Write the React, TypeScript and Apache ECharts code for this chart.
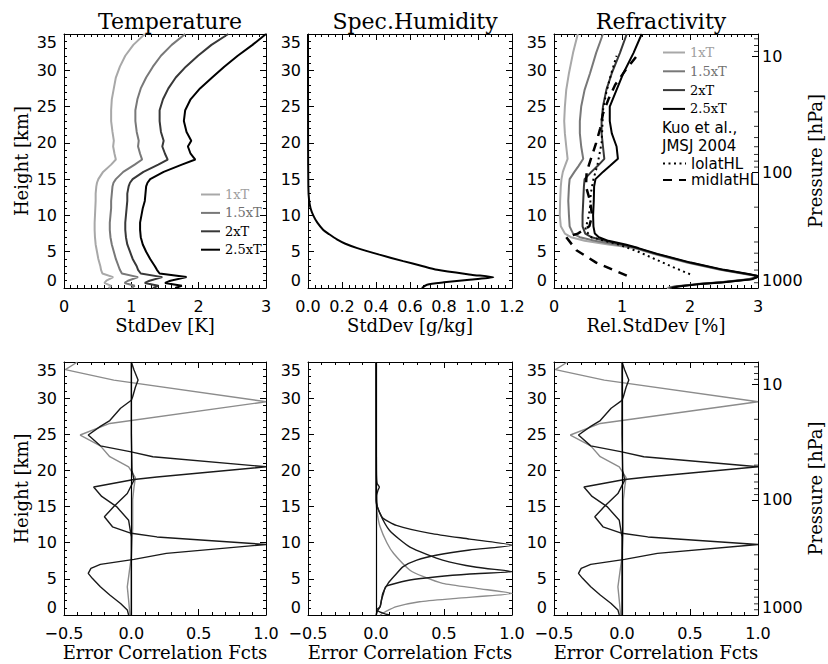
import React, { useEffect, useRef } from 'react';
import * as echarts from 'echarts';

const SERIF = '"DejaVu Serif", serif';
const SANS = '"DejaVu Sans", sans-serif';

// ---------- texts ----------
const panelTitles = ['Temperature', 'Spec.Humidity', 'Refractivity'];
const stdDevNames = ['StdDev [K]', 'StdDev [g/kg]', 'Rel.StdDev [%]'];
const corrName = 'Error Correlation Fcts';
const heightName = 'Height [km]';
const pressureName = 'Pressure [hPa]';
const kuoLines = ['Kuo et al.,', 'JMSJ 2004'];

// ---------- axes ----------
const heightRange = [0, 35, 5];
const stdDevRanges = [[0, 3, 1], [0, 1.2, 0.2], [0, 3, 1]];
const stdDevDigits = [0, 1, 0];
const corrRange = [-0.5, 1.0, 0.5];
const pressureRange = [6.36, 1000];
const pressureMinorLevels = [7, 8, 9, 20, 30, 40, 50, 60, 70, 80, 90, 200, 300, 400, 500, 600, 700, 800, 900];

// ---------- legend ----------
const scaleNames = ['1xT', '1.5xT', '2xT', '2.5xT'];
const scaleColors = ['#a8a8a8', '#787878', '#383838', '#000000'];
const scaleTextColors = ['#a0a0a0', '#707070', '#000000', '#000000'];
const kuoNames = ['lolatHL', 'midlatHL'];

// ---------- temperature std dev ----------
const tempHeights = [0, 0.3, 0.7, 1.0, 1.5, 2.0, 2.5, 3, 4, 5, 6, 7, 8, 9, 10, 11, 12, 13, 14, 14.5, 15, 16, 17, 17.7, 18.5, 19.5, 20.3, 21.5, 23, 24.5, 26, 27.5, 29, 30.5, 32, 33.5, 35];
const temp1x = [0.66, 0.70, 0.60, 0.63, 0.73, 0.57, 0.55, 0.54, 0.51, 0.49, 0.47, 0.46, 0.455, 0.455, 0.46, 0.465, 0.47, 0.47, 0.48, 0.49, 0.51, 0.58, 0.70, 0.77, 0.75, 0.73, 0.74, 0.72, 0.70, 0.70, 0.71, 0.74, 0.77, 0.83, 0.91, 1.03, 1.20];
const temp15x = [1.00, 1.05, 0.90, 0.95, 1.10, 0.86, 0.83, 0.81, 0.77, 0.74, 0.71, 0.69, 0.68, 0.68, 0.69, 0.70, 0.70, 0.71, 0.72, 0.735, 0.77, 0.88, 1.05, 1.16, 1.13, 1.10, 1.11, 1.08, 1.06, 1.06, 1.09, 1.14, 1.22, 1.32, 1.44, 1.60, 1.80];
const temp2x = [1.32, 1.40, 1.20, 1.27, 1.46, 1.14, 1.10, 1.08, 1.02, 0.98, 0.94, 0.92, 0.91, 0.91, 0.92, 0.93, 0.94, 0.94, 0.96, 0.98, 1.02, 1.18, 1.40, 1.54, 1.50, 1.46, 1.48, 1.44, 1.42, 1.42, 1.47, 1.55, 1.66, 1.81, 1.99, 2.19, 2.44];
const temp25x = [1.65, 1.75, 1.50, 1.58, 1.82, 1.42, 1.38, 1.35, 1.28, 1.22, 1.17, 1.14, 1.13, 1.13, 1.15, 1.17, 1.20, 1.21, 1.22, 1.24, 1.28, 1.48, 1.75, 1.95, 1.88, 1.84, 1.89, 1.82, 1.78, 1.80, 1.88, 2.02, 2.20, 2.38, 2.58, 2.80, 3.00];

// ---------- specific humidity std dev ----------
const humHeights = [0, 0.46, 0.78, 1.15, 1.47, 1.84, 2.5, 3.1, 3.7, 4.6, 5.5, 6.1, 6.7, 7.4, 8.0, 9.0, 9.9, 11, 12.2, 14, 20, 35];
const humStd = [0.67, 0.70, 0.80, 0.95, 1.09, 0.96, 0.76, 0.66, 0.56, 0.42, 0.29, 0.22, 0.17, 0.125, 0.09, 0.055, 0.033, 0.015, 0.006, 0.002, 0.0005, 0];

// ---------- refractivity rel. std dev ----------
const refHeights = [0, 0.2, 0.5, 0.8, 1.2, 1.6, 1.9, 2.5, 3.5, 4.7, 5.5, 6.0, 6.5, 7.0, 7.5, 8.5, 10, 12, 14, 15, 16, 16.8, 17.8, 19.5, 21.3, 23, 25, 27.3, 29.6, 32.4, 35];
const ref1x = [1.66, 1.76, 2.05, 2.44, 2.85, 3.02, 2.82, 2.44, 1.95, 1.46, 1.18, 0.80, 0.45, 0.25, 0.16, 0.10, 0.085, 0.09, 0.10, 0.11, 0.13, 0.16, 0.20, 0.18, 0.16, 0.15, 0.16, 0.18, 0.22, 0.28, 0.35];
const ref15x = [1.68, 1.78, 2.07, 2.46, 2.87, 3.02, 2.84, 2.46, 1.97, 1.48, 1.20, 0.90, 0.60, 0.38, 0.28, 0.23, 0.22, 0.21, 0.22, 0.23, 0.30, 0.36, 0.43, 0.40, 0.38, 0.38, 0.40, 0.45, 0.53, 0.62, 0.72];
const ref2x = [1.70, 1.80, 2.09, 2.48, 2.89, 3.02, 2.86, 2.48, 1.99, 1.50, 1.22, 1.00, 0.75, 0.55, 0.46, 0.42, 0.42, 0.43, 0.44, 0.45, 0.55, 0.64, 0.74, 0.72, 0.70, 0.70, 0.72, 0.77, 0.85, 0.97, 1.07];
const ref25x = [1.73, 1.83, 2.11, 2.50, 2.91, 3.02, 2.88, 2.50, 2.01, 1.52, 1.24, 1.05, 0.80, 0.66, 0.60, 0.58, 0.575, 0.585, 0.59, 0.61, 0.72, 0.82, 0.94, 0.92, 0.85, 0.82, 0.82, 0.92, 1.02, 1.17, 1.29];
const lolatHeights = [1.9, 3.0, 4.0, 5.0, 6.0, 7.0, 8.0, 9.5, 11, 13, 15, 17, 18.5, 20, 22, 24.5, 27, 29.5, 32];
const lolatVals = [2.0, 1.72, 1.48, 1.24, 0.95, 0.55, 0.46, 0.50, 0.53, 0.54, 0.58, 0.64, 0.67, 0.70, 0.71, 0.72, 0.77, 0.84, 0.92];
const midlatHeights = [1.7, 3.5, 5.2, 7.0, 7.5, 8.5, 10, 12, 14, 16, 18, 20, 22, 24, 26, 28, 30, 32];
const midlatVals = [1.07, 0.62, 0.33, 0.18, 0.35, 0.52, 0.56, 0.53, 0.47, 0.48, 0.55, 0.62, 0.68, 0.72, 0.80, 0.90, 1.05, 1.22];

// ---------- error correlation functions (temperature / refractivity) ----------
const corrGrayH = [0, 2, 3.9, 6, 8, 10, 12, 14, 16, 17.7, 19, 20.5, 21.9, 23.4, 24.9, 26.5, 29.5, 32.5, 33.95, 35];
const corrGrayX = [-0.01, -0.02, -0.03, -0.015, 0.0, 0.005, 0.01, 0.01, 0.01, 0.02, 0.03, -0.02, -0.16, -0.23, -0.38, -0.16, 1.0, -0.13, -0.49, -0.40];
const corrBlackAH = [0, 5, 10, 10.8, 13.1, 15.0, 16.4, 17.7, 18.75, 19.1, 20.5, 21.9, 22.6, 23.4, 24.9, 26.1, 26.9, 28.6, 29.7, 30.2, 31.5, 32.5, 33.9, 35];
const corrBlackAX = [0.0, 0.0, 0.0, 0.0, -0.02, -0.11, -0.22, -0.28, 0.02, 0.19, 1.0, 0.16, -0.01, -0.23, -0.32, -0.23, -0.16, -0.08, 0.0, 0.01, 0.03, 0.05, 0.02, 0.0];
const corrBlackBH = [0, 0.7, 1.6, 2.76, 3.9, 5.07, 5.76, 6.45, 7.0, 7.69, 8.52, 9.75, 10.8, 11.3, 12.2, 13.6, 15.0, 16.8, 18.65, 20, 25, 30, 35];
const corrBlackBX = [-0.02, -0.03, -0.08, -0.16, -0.23, -0.29, -0.32, -0.30, -0.23, 0.02, 0.26, 1.0, 0.19, 0.0, -0.14, -0.20, -0.13, -0.03, 0.02, 0.005, 0.0, 0.0, 0.0];

// ---------- error correlation functions (humidity) ----------
const qcorrAH = [0, 0.5, 1.15, 2.0, 3.0, 4.4, 5.5, 6.7, 7.6, 8.3, 9.0, 9.65, 10.5, 11.3, 12.4, 13.4, 14.05, 15, 16.5, 17.3, 17.7, 18.2, 20, 35];
const qcorrAX = [0.0, 0.01, 0.03, 0.04, 0.05, 0.09, 0.14, 0.20, 0.30, 0.45, 0.69, 1.0, 0.69, 0.40, 0.15, 0.05, 0.03, 0.01, 0.005, 0.015, 0.025, 0.008, 0.003, 0.0];
const qcorrBH = [0, 0.23, 0.7, 1.15, 2.07, 3.0, 3.9, 4.15, 4.84, 5.3, 5.67, 6.0, 6.6, 7.6, 9.4, 11.7, 14.0, 15.9, 35];
const qcorrBX = [0.10, 0.055, 0.005, 0.03, 0.04, 0.055, 0.07, 0.10, 0.25, 0.45, 0.69, 1.0, 0.74, 0.49, 0.25, 0.10, 0.03, 0.0, 0.0];
const qcorrGrayH = [0, 0.46, 1.15, 1.84, 2.3, 2.99, 3.68, 4.38, 5.3, 6.2, 8.5, 10, 12.2, 14, 16, 35];
const qcorrGrayX = [0.03, 0.07, 0.15, 0.32, 0.59, 1.0, 0.74, 0.49, 0.35, 0.25, 0.13, 0.08, 0.03, 0.01, 0.0, 0.0];

// ---------- layout ----------
const COLS = [{ left: 64, width: 202 }, { left: 308, width: 204 }, { left: 554, width: 204 }];
const ROWS = [{ top: 34, height: 254 }, { top: 362, height: 253 }];

const zip = (xs: number[], hs: number[]) => hs.map((h, i) => [xs[i], h]);
const fmt = (v: number, d: number) => v.toFixed(d).replace('-', '\u2212');
const isPow10 = (v: number) => {
  const l = Math.log10(v);
  return Math.abs(l - Math.round(l)) < 1e-6;
};

const tickFont = { fontFamily: SANS, fontSize: 16, color: '#000' };
const nameFont = { fontFamily: SERIF, fontSize: 18, color: '#000' };
const axisLine = { show: true, onZero: false, lineStyle: { color: '#000', width: 1 } };
const axisTick = { show: true, inside: true, length: 6, lineStyle: { color: '#000', width: 1 } };

function buildOption() {
  const grid: any[] = [];
  const xAxis: any[] = [];
  const yAxis: any[] = [];
  for (let row = 0; row < 2; row++) {
    for (let col = 0; col < 3; col++) {
      const p = row * 3 + col;
      grid.push({ left: COLS[col].left, width: COLS[col].width, top: ROWS[row].top, height: ROWS[row].height, containLabel: false });
      const [xmin, xmax, xint] = row === 0 ? stdDevRanges[col] : corrRange;
      const digits = row === 0 ? stdDevDigits[col] : 1;
      const minorSplit = row === 0 ? (col === 1 ? 5 : 10) : 5;
      const xc = {
        gridIndex: p, type: 'value', min: xmin, max: xmax, interval: xint,
        axisLine, axisTick,
        minorTick: { show: true, splitNumber: minorSplit, length: 3, lineStyle: { color: '#000' } },
        splitLine: { show: false }, minorSplitLine: { show: false },
      };
      xAxis.push({
        ...xc, position: 'bottom',
        axisLabel: { ...tickFont, margin: 10, formatter: (v: number) => fmt(v, digits) },
        name: row === 0 ? stdDevNames[col] : corrName,
        nameLocation: 'middle', nameGap: 28, nameTextStyle: nameFont,
      });
      xAxis.push({ ...xc, position: 'top', axisLabel: { show: false } });
      const yc = {
        gridIndex: p, type: 'value', min: heightRange[0], max: heightRange[1], interval: heightRange[2],
        axisLine, axisTick,
        minorTick: { show: true, splitNumber: 5, length: 3, lineStyle: { color: '#000' } },
        splitLine: { show: false }, minorSplitLine: { show: false },
      };
      yAxis.push({
        ...yc, position: 'left',
        axisLabel: { ...tickFont, margin: 7, verticalAlignMinLabel: 'bottom', verticalAlignMaxLabel: 'top' },
        name: col === 0 ? heightName : '', nameLocation: 'middle', nameGap: 34, nameTextStyle: nameFont,
      });
      if (col < 2) {
        yAxis.push({ ...yc, position: 'right', axisLabel: { show: false } });
      } else {
        yAxis.push({
          gridIndex: p, type: 'log', logBase: 10, min: pressureRange[0], max: pressureRange[1], inverse: true,
          position: 'right', axisLine, axisTick,
          minorTick: { show: false }, splitLine: { show: false },
          axisLabel: {
            ...tickFont, margin: 4, verticalAlignMaxLabel: 'bottom',
            formatter: (v: number) => (isPow10(v) ? String(Math.round(v)) : ''),
          },
          name: pressureName, nameLocation: 'middle', nameGap: 46, nameTextStyle: nameFont,
        });
      }
    }
  }

  const line = (name: string, p: number, xs: number[], hs: number[], color: string, width: number, type: any = 'solid', smooth: any = false, extra: any = {}) => ({
    type: 'line', name, xAxisIndex: 2 * p, yAxisIndex: 2 * p, data: zip(xs, hs),
    symbol: 'none', showSymbol: false, smooth, silent: true,
    lineStyle: { color, width, type }, itemStyle: { color }, z: 3, ...extra,
  });

  const zeroLine = { markLine: { silent: true, symbol: 'none', label: { show: false }, lineStyle: { color: '#000', width: 1.2, type: 'solid' }, data: [{ xAxis: 0 }] } };

  const GRAY = '#8c8c8c';
  const BLACK = '#1a1a1a';
  const series: any[] = [];
  const temps = [temp1x, temp15x, temp2x, temp25x];
  const refs = [ref1x, ref15x, ref2x, ref25x];
  temps.forEach((t, i) => series.push(line(scaleNames[i], 0, t, tempHeights, scaleColors[i], 2)));
  series.push(line('q', 1, humStd, humHeights, '#000', 2, 'solid', 0.25));
  refs.forEach((r, i) => series.push(line(scaleNames[i], 2, r, refHeights, scaleColors[i], 2)));
  series.push(line(kuoNames[0], 2, lolatVals, lolatHeights, '#000', 2, [2, 3.5]));
  series.push(line(kuoNames[1], 2, midlatVals, midlatHeights, '#000', 2.5, [9, 7]));

  [3, 5].forEach((p) => {
    series.push(line('cg' + p, p, corrGrayX, corrGrayH, GRAY, 1.4, 'solid', false, zeroLine));
    series.push(line('ca' + p, p, corrBlackAX, corrBlackAH, BLACK, 1.4));
    series.push(line('cb' + p, p, corrBlackBX, corrBlackBH, BLACK, 1.4));
  });
  series.push(line('qg', 4, qcorrGrayX, qcorrGrayH, GRAY, 1.4, 'solid', 0.2, zeroLine));
  series.push(line('qa', 4, qcorrAX, qcorrAH, BLACK, 1.4, 'solid', 0.2));
  series.push(line('qb', 4, qcorrBX, qcorrBH, BLACK, 1.4, 'solid', 0.2));

  [2, 5].forEach((p) => {
    const xmax = p === 2 ? stdDevRanges[2][1] : corrRange[1];
    series.push({
      type: 'scatter', xAxisIndex: 2 * p, yAxisIndex: 2 * p + 1, silent: true, clip: false,
      data: pressureMinorLevels.map((v) => [xmax, v]),
      symbol: 'rect', symbolSize: [4, 1], symbolOffset: [-2, 0],
      itemStyle: { color: '#000' }, z: 5,
    });
  });

  const title = panelTitles.map((t, i) => ({
    text: t, left: COLS[i].left + COLS[i].width / 2, top: 5, textAlign: 'center',
    textStyle: { fontFamily: SERIF, fontSize: 22, fontWeight: 'normal', color: '#000' },
  }));

  const legendBase = {
    orient: 'vertical', selectedMode: false, itemStyle: { opacity: 0 }, padding: 0,
  };
  const legend = [
    {
      ...legendBase, left: 200, top: 188, itemWidth: 19, itemHeight: 13, itemGap: 5.4,
      textStyle: { fontFamily: SERIF, fontSize: 13, lineHeight: 13 },
      data: scaleNames.map((n, i) => ({ name: n, textStyle: { color: scaleTextColors[i] } })),
    },
    {
      ...legendBase, left: 662, top: 46, itemWidth: 22, itemHeight: 13, itemGap: 5.8,
      textStyle: { fontFamily: SERIF, fontSize: 13, lineHeight: 13 },
      data: scaleNames.map((n, i) => ({ name: n, textStyle: { color: scaleTextColors[i] } })),
    },
    {
      ...legendBase, left: 662, top: 156, itemWidth: 23, itemHeight: 13, itemGap: 1.5,
      textStyle: { fontFamily: SANS, fontSize: 15, lineHeight: 13, color: '#000' },
      data: kuoNames,
    },
  ];

  const graphic = [
    {
      type: 'text', left: 662, top: 119, silent: true,
      style: { text: kuoLines.join('\n'), fontFamily: SANS, fontSize: 15, lineHeight: 18, fill: '#000' },
    },
  ];

  return { animation: false, backgroundColor: '#fff', title, legend, grid, xAxis, yAxis, series, graphic };
}

export default function App() {
  const ref = useRef<HTMLDivElement>(null);
  useEffect(() => {
    if (!ref.current) return;
    const chart = echarts.init(ref.current, undefined, { renderer: 'svg' });
    chart.setOption(buildOption() as any);
    return () => chart.dispose();
  }, []);
  return <div ref={ref} style={{ position: 'fixed', left: 0, top: 0, width: 828, height: 664, background: '#fff' }} />;
}
